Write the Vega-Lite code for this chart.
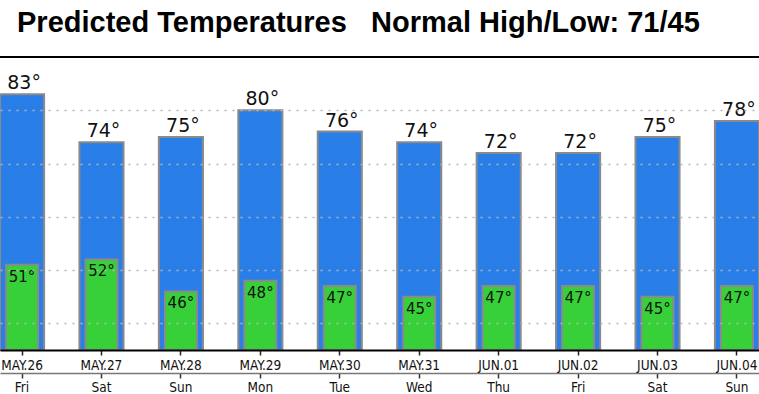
{
  "$schema": "https://vega.github.io/schema/vega-lite/v6.json",
  "width": 759,
  "height": 293,
  "autosize": {"type": "none"},
  "padding": {"left": 0, "right": 0, "top": 57, "bottom": 44},
  "background": "white",
  "config": {"view": {"stroke": null}},
  "title": {
    "text": "Predicted Temperatures\u00a0\u00a0\u00a0Normal High/Low: 71/45",
    "anchor": "start",
    "dx": 18,
    "offset": -5,
    "baseline": "alphabetic",
    "font": "Liberation Sans",
    "fontSize": 29,
    "fontWeight": "bold",
    "color": "black"
  },
  "data": {
    "values": [
      {"day": "MAY.26|Fri", "high": 83, "low": 51},
      {"day": "MAY.27|Sat", "high": 74, "low": 52},
      {"day": "MAY.28|Sun", "high": 75, "low": 46},
      {"day": "MAY.29|Mon", "high": 80, "low": 48},
      {"day": "MAY.30|Tue", "high": 76, "low": 47},
      {"day": "MAY.31|Wed", "high": 74, "low": 45},
      {"day": "JUN.01|Thu", "high": 72, "low": 47},
      {"day": "JUN.02|Fri", "high": 72, "low": 47},
      {"day": "JUN.03|Sat", "high": 75, "low": 45},
      {"day": "JUN.04|Sun", "high": 78, "low": 47}
    ]
  },
  "resolve": {"axis": {"x": "independent"}},
  "layer": [
    {
      "mark": {"type": "bar", "color": "#2a7ee8", "stroke": "#8a8a8a", "strokeWidth": 2},
      "encoding": {
        "x": {
          "field": "day", "type": "nominal", "sort": null,
          "scale": {"paddingInner": 0.445, "paddingOuter": 0},
          "axis": {
            "orient": "bottom", "title": null, "labelAngle": 0,
            "labelExpr": "split(datum.value, '|')[0]",
            "labelFont": "DejaVu Sans Condensed, DejaVu Sans", "labelFontSize": 13.5, "labelColor": "#111",
            "labelPadding": 3,
            "domainColor": "black", "domainWidth": 2,
            "tickColor": "#222", "tickSize": 5, "tickWidth": 1.5,
            "zindex": 1
          }
        },
        "y": {
          "field": "high", "type": "quantitative",
          "scale": {"domain": [35, 90], "zero": false, "nice": false},
          "axis": {
            "title": null, "labels": false, "ticks": false, "domain": false,
            "grid": true, "values": [40, 45, 50, 55, 60, 65, 70, 75, 80, 85],
            "gridColor": "#b4b4b4", "gridOpacity": 1, "gridDash": [2, 6], "gridWidth": 1.5,
            "zindex": 2
          }
        },
        "y2": {"datum": 35}
      }
    },
    {
      "mark": {"type": "bar", "color": "#38d038", "stroke": "#8a8a8a", "strokeWidth": 2, "size": 32},
      "encoding": {
        "x": {
          "field": "day", "type": "nominal", "sort": null,
          "axis": {
            "orient": "bottom", "title": null, "labelAngle": 0, "offset": 23,
            "labelExpr": "split(datum.value, '|')[1]",
            "labelFont": "DejaVu Sans Condensed, DejaVu Sans", "labelFontSize": 13.5, "labelColor": "#111",
            "labelPadding": 2,
            "domainColor": "#777", "domainWidth": 1.5,
            "tickColor": "#333", "tickSize": 5, "tickWidth": 1.5
          }
        },
        "y": {"field": "low", "type": "quantitative"},
        "y2": {"datum": 35}
      }
    },
    {
      "mark": {"type": "text", "baseline": "alphabetic", "dy": -5, "dx": 2, "font": "DejaVu Sans", "fontSize": 19, "color": "#111", "text": {"expr": "datum.high + '°'"}},
      "encoding": {
        "x": {"field": "day", "type": "nominal", "sort": null, "axis": null},
        "y": {"field": "high", "type": "quantitative"}
      }
    },
    {
      "mark": {"type": "text", "baseline": "top", "dy": 5, "font": "DejaVu Sans", "fontSize": 15, "color": "#111", "text": {"expr": "datum.low + '°'"}},
      "encoding": {
        "x": {"field": "day", "type": "nominal", "sort": null, "axis": null},
        "y": {"field": "low", "type": "quantitative"}
      }
    },
    {
      "mark": {"type": "rule", "color": "black", "strokeWidth": 2},
      "encoding": {"y": {"datum": 90}}
    }
  ]
}
